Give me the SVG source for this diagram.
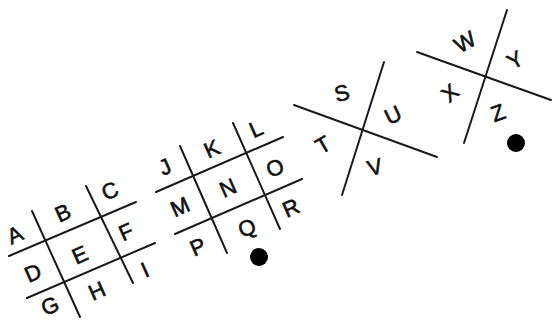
<svg xmlns="http://www.w3.org/2000/svg" width="553" height="320" viewBox="0 0 553 320">
<style>
.ln{stroke:#1a1a1a;stroke-width:2;stroke-linecap:round;fill:none}
.t{font-family:"Liberation Sans",Arial,sans-serif;font-size:22px;fill:#111;stroke:#111;stroke-width:0.6;text-anchor:middle;dominant-baseline:central}
.dot{fill:#000}
</style>
<rect width="553" height="320" fill="#fff"/>
<g id="grid1">
<line class="ln" x1="9" y1="256" x2="136" y2="202"/>
<line class="ln" x1="27" y1="298" x2="155" y2="243"/>
<line class="ln" x1="32" y1="211" x2="80" y2="317"/>
<line class="ln" x1="86" y1="186" x2="133" y2="283"/>
<text class="t" x="15" y="235" transform="rotate(-24 15 235)">A</text>
<text class="t" x="63" y="213" transform="rotate(-24 63 213)">B</text>
<text class="t" x="110" y="191" transform="rotate(-24 110 191)">C</text>
<text class="t" x="33" y="273" transform="rotate(-24 33 273)">D</text>
<text class="t" x="80" y="255" transform="rotate(-24 80 255)">E</text>
<text class="t" x="126" y="232" transform="rotate(-24 126 232)">F</text>
<text class="t" x="50" y="306" transform="rotate(-24 50 306)">G</text>
<text class="t" x="97" y="291" transform="rotate(-24 97 291)">H</text>
<text class="t" x="145" y="270" transform="rotate(-24 145 270)">I</text>
</g>
<g id="grid2">
<line class="ln" x1="156" y1="192" x2="283" y2="137"/>
<line class="ln" x1="175" y1="234" x2="302" y2="179"/>
<line class="ln" x1="180" y1="146" x2="227" y2="253"/>
<line class="ln" x1="233" y1="123" x2="280" y2="229"/>
<text class="t" x="165" y="167" transform="rotate(-24 165 167)">J</text>
<text class="t" x="212" y="149" transform="rotate(-24 212 149)">K</text>
<text class="t" x="256" y="129" transform="rotate(-24 256 129)">L</text>
<text class="t" x="180" y="207" transform="rotate(-24 180 207)">M</text>
<text class="t" x="228" y="188" transform="rotate(-24 228 188)">N</text>
<text class="t" x="275" y="168" transform="rotate(-24 275 168)">O</text>
<text class="t" x="198" y="247" transform="rotate(-24 198 247)">P</text>
<text class="t" x="247" y="228" transform="rotate(-24 247 228)">Q</text>
<text class="t" x="291" y="208" transform="rotate(-24 291 208)">R</text>
<circle class="dot" cx="259" cy="257" r="9"/>
</g>
<g id="grid3">
<line class="ln" x1="294" y1="105" x2="437" y2="157"/>
<line class="ln" x1="384" y1="62" x2="342" y2="195"/>
<text class="t" x="342" y="93" transform="rotate(-15 342 93)">S</text>
<text class="t" x="393" y="115" transform="rotate(-25 393 115)">U</text>
<text class="t" x="323" y="145" transform="rotate(-30 323 145)">T</text>
<text class="t" x="375" y="167" transform="rotate(-15 375 167)">V</text>
</g>
<g id="grid4">
<line class="ln" x1="417" y1="52" x2="551" y2="100"/>
<line class="ln" x1="507" y1="10" x2="464" y2="143"/>
<text class="t" x="465" y="42" transform="rotate(-30 465 42)">W</text>
<text class="t" x="515" y="60" transform="rotate(-30 515 60)">Y</text>
<text class="t" x="450" y="93" transform="rotate(-40 450 93)">X</text>
<text class="t" x="498" y="113" transform="rotate(-20 498 113)">Z</text>
<circle class="dot" cx="516" cy="143" r="9"/>
</g>
</svg>
